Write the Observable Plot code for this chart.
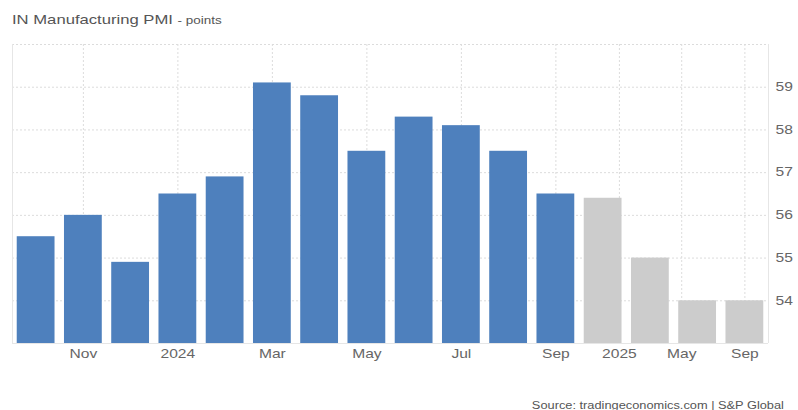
<!DOCTYPE html>
<html>
<head>
<meta charset="utf-8">
<script src="https://cdn.jsdelivr.net/npm/d3@7"></script>
<script src="https://cdn.jsdelivr.net/npm/@observablehq/plot@0.6"></script>
<style>
  body { margin: 0; background: #fff; font-family: "Liberation Sans", Arial, sans-serif; }
  #chart { position: relative; width: 798px; height: 410px; overflow: hidden; }
  #title { position: absolute; left: 12px; top: 13px; white-space: nowrap; color: #555;
           font-size: 13px; line-height: 13px; transform: scaleX(1.28); transform-origin: left center; }
  #title small { font-size: 10.5px; }
  #plot { position: absolute; left: 0; top: 30px; }
  #source { position: absolute; right: 14px; top: 401px; white-space: nowrap; color: #555;
            font-size: 10px; line-height: 10px; transform: scaleX(1.28); transform-origin: right center; }
</style>
</head>
<body>
<div id="chart">
  <div id="title">IN Manufacturing PMI <small>- points</small></div>
  <div id="plot"></div>
  <div id="source">Source: tradingeconomics.com | S&amp;P Global</div>
</div>
<script>
// Monthly actuals (Oct 2023 – Sep 2024)
const actualMonths = ["2023-10", "2023-11", "2023-12", "2024-01", "2024-02", "2024-03",
                      "2024-04", "2024-05", "2024-06", "2024-07", "2024-08", "2024-09"];
const actualValues = [55.5, 56.0, 54.9, 56.5, 56.9, 59.1, 58.8, 57.5, 58.3, 58.1, 57.5, 56.5];

// Quarterly forecasts
const forecastMonths = ["2024-12", "2025-03", "2025-06", "2025-09"];
const forecastValues = [56.4, 55.0, 54.0, 54.0];

// Axis ticks
const tickMonths = ["2023-11", "2024-01", "2024-03", "2024-05", "2024-07", "2024-09", "2025-01", "2025-05", "2025-09"];
const tickLabels = ["Nov", "2024", "Mar", "May", "Jul", "Sep", "2025", "May", "Sep"];
const yTicks = [54, 55, 56, 57, 58, 59];
const yGrid = [54, 55, 56, 57, 58, 59, 60];
const yDomain = [53, 60];

const parse = d3.utcParse("%Y-%m");
const barMonths = actualMonths.concat(forecastMonths).map(parse);

// Ordinal time axis: each bar takes one slot; dates in between are interpolated
const slot = d3.scaleLinear().domain(barMonths).range(barMonths.map((_, i) => i));

const bars = [
  ...actualMonths.map((m, i) => ({pos: slot(parse(m)), value: actualValues[i], kind: "actual"})),
  ...forecastMonths.map((m, i) => ({pos: slot(parse(m)), value: forecastValues[i], kind: "forecast"}))
];
const tickPos = tickMonths.map(m => slot(parse(m)));
const labelAt = new Map(tickPos.map((p, i) => [p, tickLabels[i]]));

const half = 0.4;
const xDomain = [-0.5, barMonths.length - 0.5];

const svg = Plot.plot({
  width: 798,
  height: 350,
  marginLeft: 12,
  marginRight: 30,
  marginTop: 14,
  marginBottom: 37,
  style: {fontFamily: "'Liberation Sans', Arial, sans-serif", fontSize: "12px", color: "#666", background: "#fff"},
  x: {type: "linear", domain: xDomain, label: null},
  y: {domain: yDomain, label: null},
  color: {domain: ["actual", "forecast"], range: ["#4e80bd", "#cccccc"]},
  marks: [
    Plot.ruleY(yGrid, {stroke: "#dcdcdc", strokeDasharray: "2,2"}),
    Plot.ruleX(tickPos, {stroke: "#dcdcdc", strokeDasharray: "2,2"}),
    Plot.ruleX(xDomain, {stroke: "#e6e6e6"}),
    Plot.ruleY([yDomain[0]], {stroke: "#e6e6e6"}),
    Plot.rectY(bars, {
      x1: d => d.pos - half,
      x2: d => d.pos + half,
      y1: yDomain[0],
      y2: "value",
      fill: "kind"
    }),
    Plot.axisX({ticks: tickPos, tickFormat: d => labelAt.get(d), tickSize: 0, tickPadding: 6, fill: "#666", label: null}),
    Plot.axisY({anchor: "right", ticks: yTicks, tickFormat: d => String(d), tickSize: 0, tickPadding: 7, fill: "#666", label: null})
  ]
});

// Slightly wide lettering for the tick labels
svg.querySelectorAll('g[aria-label$="tick label"] text').forEach(t => {
  const x = +t.getAttribute("x") || 0, y = +t.getAttribute("y") || 0;
  const tr = t.getAttribute("transform") || "";
  t.setAttribute("transform", `${tr} translate(${x},${y}) scale(1.3,1) translate(${-x},${-y})`);
});

document.getElementById("plot").appendChild(svg);
</script>
</body>
</html>
